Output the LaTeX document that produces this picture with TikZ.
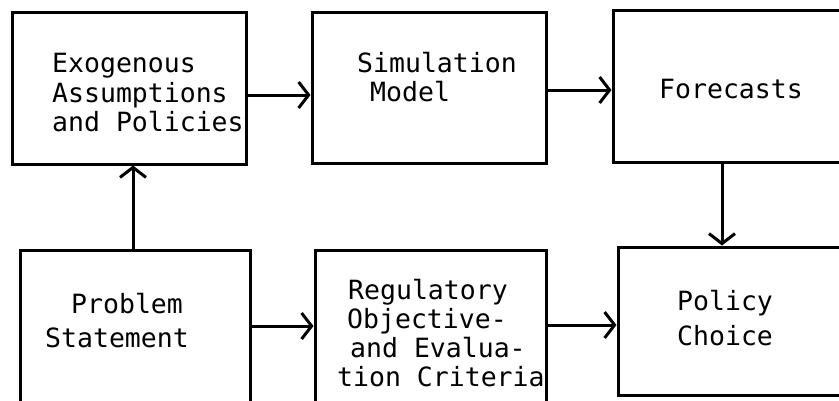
\documentclass[tikz,border=0pt]{standalone}
\usepackage{fontspec}
\newfontfamily\typew{DejaVu Sans Mono}
\usetikzlibrary{arrows.meta}
\tikzset{
  box/.style={draw, line width=3pt, minimum width=#1, inner sep=0pt},
  txt/.style={inner sep=0pt, align=left, font=\typew\fontsize{26.5}{29.5}\selectfont},
  arr/.style={line width=3pt, -{Straight Barb[length=10pt,width=26pt]}}
}
\begin{document}
\begin{tikzpicture}[x=1pt,y=-1pt]
\useasboundingbox (0,0) rectangle (839,400);
% boxes
\node[box=234pt, minimum height=152pt] (b1) at (129,88) {};
\node[box=234pt, minimum height=151pt] (b2) at (429,87.5) {};
\node[box=237pt, minimum height=152pt] (b3) at (731.5,86) {};
\node[box=230pt, minimum height=162pt] (b4) at (135,331) {};
\node[box=231pt, minimum height=162pt] (b5) at (430.5,331) {};
\node[box=232pt, minimum height=148pt] (b6) at (734,321) {};
% texts
\node[txt, anchor=north west] (t1) at (52,53) {Exogenous\\Assumptions\\and Policies};
\node[txt, anchor=north west] (t2) at (357,52) {Simulation\\\hspace*{13pt}Model};
\node[txt, anchor=base west] (t3) at (659,98) {Forecasts};
\node[txt, anchor=north west, font=\typew\fontsize{26.5}{34}\selectfont] (t4) at (45,293) {\hspace*{26pt}Problem\\Statement};
\node[txt, anchor=north west, font=\typew\fontsize{26.5}{29}\selectfont] (t5) at (337,279) {\hspace*{11pt}Regulatory\\\hspace*{10pt}Objective-\\\hspace*{13pt}and Evalua-\\tion Criteria};
\node[txt, anchor=north west, font=\typew\fontsize{26.5}{35}\selectfont] (t6) at (677,290) {Policy\\Choice};
% connectors
\draw[arr] ([yshift=-7pt]b1.east) -- ([yshift=-7pt]b1.east -| b2.west);
\draw[arr] ([yshift=-2.5pt]b2.east) -- ([yshift=-2.5pt]b2.east -| b3.west);
\draw[arr] ([xshift=-9.5pt]b3.south) -- ([xshift=-9.5pt]b3.south |- b6.north);
\draw[arr] ([xshift=-2pt]b4.north) -- ([xshift=-2pt]b4.north |- b1.south);
\draw[arr] ([yshift=5pt]b4.east) -- ([yshift=5pt]b4.east -| b5.west);
\draw[arr] ([yshift=6pt]b5.east) -- ([yshift=6pt]b5.east -| b6.west);
\end{tikzpicture}
\end{document}
